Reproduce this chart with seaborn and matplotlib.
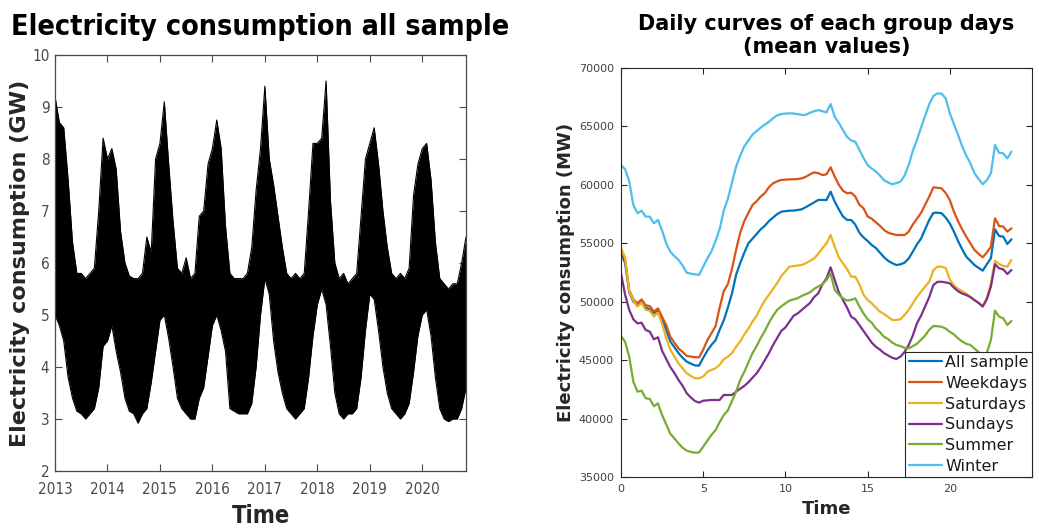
import numpy as np
import pandas as pd
import matplotlib
matplotlib.use("Agg")
import matplotlib.pyplot as plt
from matplotlib import font_manager as fm
import seaborn as sns

# ---------------- data: left panel (monthly envelope of hourly load, GW) -------------
years_start = 2013
upper_gw = [
    9.2, 8.7, 8.6, 7.6, 6.4, 5.8, 5.8, 5.7, 5.8, 5.9, 7.0, 8.4,   # 2013
    8.0, 8.2, 7.8, 6.6, 6.0, 5.75, 5.7, 5.7, 5.8, 6.5, 6.2, 8.0,  # 2014
    8.3, 9.1, 7.9, 6.8, 5.9, 5.8, 6.1, 5.7, 5.8, 6.9, 7.0, 7.9,   # 2015
    8.2, 8.75, 8.2, 6.7, 5.8, 5.7, 5.7, 5.7, 5.8, 6.3, 7.4, 8.2,  # 2016
    9.4, 8.0, 7.5, 6.9, 6.3, 5.8, 5.7, 5.8, 5.7, 5.8, 7.0, 8.3,   # 2017
    8.3, 8.4, 9.5, 7.2, 6.0, 5.7, 5.8, 5.6, 5.7, 5.8, 6.9, 8.0,   # 2018
    8.3, 8.6, 7.9, 7.0, 6.3, 5.8, 5.7, 5.8, 5.7, 5.9, 7.3, 7.9,   # 2019
    8.2, 8.3, 7.6, 6.4, 5.7, 5.6, 5.5, 5.6, 5.6, 6.0, 6.5,        # 2020
]
lower_gw = [
    5.0, 4.8, 4.5, 3.8, 3.4, 3.15, 3.1, 3.0, 3.1, 3.2, 3.6, 4.4,  # 2013
    4.5, 4.8, 4.3, 3.9, 3.4, 3.15, 3.1, 2.92, 3.1, 3.2, 3.7, 4.3, # 2014
    4.9, 5.0, 4.55, 4.0, 3.4, 3.2, 3.1, 3.0, 3.0, 3.4, 3.6, 4.2,  # 2015
    4.8, 5.0, 4.7, 4.3, 3.2, 3.15, 3.1, 3.1, 3.1, 3.3, 4.0, 5.0,  # 2016
    5.7, 5.4, 4.5, 3.9, 3.5, 3.2, 3.1, 3.0, 3.1, 3.2, 3.8, 4.6,   # 2017
    5.2, 5.5, 5.2, 4.4, 3.5, 3.1, 3.0, 3.1, 3.1, 3.2, 3.8, 4.7,   # 2018
    5.4, 5.3, 4.7, 4.0, 3.5, 3.2, 3.1, 3.0, 3.1, 3.3, 3.9, 4.6,   # 2019
    5.0, 5.1, 4.6, 3.8, 3.2, 3.0, 2.95, 3.0, 3.0, 3.2, 3.6,       # 2020
]
year_ticks = [2013, 2014, 2015, 2016, 2017, 2018, 2019, 2020]

# ---------------- data: right panel (15-min mean daily curves, MW) ---------------------
series_names = ["All sample", "Weekdays", "Saturdays", "Sundays", "Summer", "Winter"]
all_sample = [
    54200, 53300, 50800, 50000, 49720, 50090, 49500, 49350,
    49010, 49290, 48500, 47600, 46600, 46100, 45600, 45200,
    44870, 44700, 44550, 44530, 45200, 45800, 46300, 46700,
    47600, 48400, 49500, 50700, 52300, 53300, 54200, 55000,
    55400, 55800, 56200, 56500, 56900, 57200, 57500, 57700,
    57750, 57790, 57800, 57850, 57910, 58100, 58300, 58500,
    58710, 58710, 58700, 59420, 58560, 57900, 57300, 57000,
    57000, 56600, 55900, 55500, 55200, 54850, 54600, 54200,
    53800, 53500, 53300, 53140, 53200, 53340, 53700, 54280,
    54900, 55400, 56200, 57000, 57600, 57620, 57570, 57200,
    56700, 56000, 55200, 54500, 53860, 53500, 53140, 52900,
    52660, 53200, 53720, 56200, 55620, 55570, 54940, 55340,
]
weekdays = [
    54400, 53600, 51000, 50200, 49860, 50200, 49700, 49630,
    49150, 49430, 48700, 48000, 47000, 46500, 46000, 45700,
    45360, 45300, 45250, 45240, 45900, 46700, 47300, 47900,
    49500, 50900, 51500, 52800, 54430, 55900, 56900, 57600,
    58280, 58600, 59000, 59300, 59800, 60130, 60300, 60420,
    60450, 60470, 60480, 60500, 60560, 60700, 60900, 61070,
    61000, 60840, 60900, 61500, 60700, 60000, 59500, 59280,
    59330, 59000, 58300, 58000, 57300, 57100, 56800, 56500,
    56140, 55900, 55800, 55710, 55710, 55700, 56000, 56600,
    57100, 57600, 58300, 59000, 59790, 59750, 59700, 59300,
    58700, 57700, 56900, 56200, 55570, 55000, 54430, 54100,
    53800, 54200, 54710, 57140, 56480, 56420, 56000, 56280,
]
saturdays = [
    54570, 53800, 50900, 50100, 49580, 49920, 49300, 49230,
    48720, 49060, 48100, 46900, 45900, 45300, 44730, 44300,
    43870, 43650, 43450, 43450, 43600, 44000, 44160, 44300,
    44600, 45070, 45300, 45600, 46150, 46600, 47200, 47700,
    48300, 48800, 49500, 50100, 50600, 51100, 51600, 52200,
    52600, 53000, 53050, 53100, 53140, 53300, 53500, 53700,
    54100, 54570, 55000, 55710, 54710, 53800, 53290, 52800,
    52140, 52140, 51500, 50600, 50150, 49860, 49500, 49150,
    48950, 48700, 48440, 48440, 48500, 48870, 49300, 49860,
    50400, 50860, 51300, 51710, 52700, 53000, 53000, 52900,
    51900, 51400, 51100, 50900, 50700, 50400, 50100, 49900,
    49630, 50300, 51580, 53500, 53230, 53060, 53000, 53570,
]
sundays = [
    52430, 50600, 49300, 48500, 48150, 48200, 47580, 47440,
    46780, 46960, 45800, 45100, 44400, 43900, 43300, 42800,
    42160, 41800, 41500, 41360, 41530, 41560, 41590, 41590,
    41590, 42020, 42020, 42020, 42300, 42550, 42800, 43100,
    43500, 43870, 44400, 45000, 45600, 46300, 46900, 47500,
    47800, 48300, 48800, 49000, 49300, 49600, 49900, 50400,
    50720, 51500, 52000, 52940, 51860, 50800, 50150, 49500,
    48720, 48500, 48000, 47500, 47000, 46500, 46150, 45900,
    45600, 45400, 45200, 45100, 45300, 45700, 46300, 47100,
    48150, 48800, 49600, 50400, 51430, 51700, 51710, 51650,
    51570, 51200, 50900, 50700, 50570, 50400, 50150, 49900,
    49580, 50200, 51290, 53200, 52860, 52770, 52370, 52710,
]
summer = [
    47070, 46580, 45300, 43160, 42300, 42390, 41740, 41680,
    41060, 41300, 40300, 39500, 38700, 38300, 37870, 37500,
    37250, 37150, 37080, 37100, 37600, 38100, 38600, 39000,
    39700, 40300, 40700, 41500, 42300, 43300, 44000, 44800,
    45600, 46200, 46900, 47500, 48200, 48800, 49300, 49600,
    49860, 50100, 50200, 50300, 50500, 50650, 50800, 51100,
    51300, 51500, 51860, 52430, 51000, 50600, 50290, 50100,
    50150, 50290, 49600, 49000, 48500, 48200, 47720, 47400,
    47000, 46800, 46500, 46300, 46200, 46050, 46010, 46200,
    46400, 46750, 47100, 47600, 47920, 47900, 47860, 47700,
    47430, 47200, 46870, 46600, 46400, 46300, 46000, 45700,
    45300, 45600, 46720, 49230, 48720, 48580, 48010, 48350,
]
winter = [
    61700, 61330, 60300, 58280, 57570, 57790, 57280, 57280,
    56710, 57000, 56100, 55000, 54280, 53900, 53570, 53100,
    52480, 52400, 52350, 52300, 53000, 53700, 54300, 55200,
    56200, 57800, 58800, 60200, 61560, 62500, 63300, 63800,
    64300, 64600, 64900, 65150, 65400, 65700, 65950, 66050,
    66100, 66120, 66100, 66050, 65980, 66000, 66180, 66300,
    66400, 66300, 66200, 66920, 65830, 65300, 64690, 64100,
    63800, 63690, 63000, 62300, 61700, 61400, 61150, 60800,
    60400, 60200, 60050, 60150, 60270, 60800, 61700, 62900,
    63840, 64900, 65900, 66900, 67600, 67830, 67800, 67400,
    66120, 65200, 64300, 63300, 62500, 61850, 61000, 60500,
    60050, 60400, 60990, 63410, 62750, 62700, 62270, 62840,
]
hour_ticks = [0, 5, 10, 15, 20]
mw_ticks = [35000, 40000, 45000, 50000, 55000, 60000, 65000, 70000]
gw_ticks = [2, 3, 4, 5, 6, 7, 8, 9, 10]

matlab_colors = ["#0072BD", "#D95319", "#EDB120", "#7E2F8E", "#77AC30", "#4DBEEE"]

# ---------------- style ----------------
sns.set_theme(style="ticks")
plt.rcParams["font.family"] = ["DejaVu Sans"]

# try to find a condensed face for the (horizontally squeezed) left panel
cond_bold = None
cond_reg = None
for f in fm.fontManager.ttflist:
    fn = f.fname.lower()
    if ("condensed" in fn or "narrow" in fn) and "dejavusans" in fn.replace("-", ""):
        if "bold" in fn and "oblique" not in fn and cond_bold is None:
            cond_bold = f.fname
        if "bold" not in fn and "oblique" not in fn and cond_reg is None:
            cond_reg = f.fname
if cond_bold is None:
    for f in fm.fontManager.ttflist:
        fn = f.fname.lower()
        if "narrow" in fn and "bold" in fn and "italic" not in fn:
            cond_bold = f.fname
            break

def fp(fname, size, weight="normal"):
    if fname:
        return fm.FontProperties(fname=fname, size=size)
    return fm.FontProperties(family="DejaVu Sans", size=size * 0.85, weight=weight)

W, H = 1039, 529
fig = plt.figure(figsize=(W / 100, H / 100), dpi=100)
fig.patch.set_facecolor("white")

# ---------------- left panel ----------------
axL = fig.add_axes([55 / W, (H - 471) / H, 411 / W, 416 / H])
t = years_start + np.arange(len(upper_gw)) / 12.0
dfL = pd.DataFrame({"t": t, "upper": upper_gw, "lower": lower_gw})
axL.fill_between(dfL["t"], dfL["lower"], dfL["upper"], color="black", linewidth=0)
sns.lineplot(data=dfL, x="t", y="upper", ax=axL, color="black", linewidth=0.8)
sns.lineplot(data=dfL, x="t", y="lower", ax=axL, color="black", linewidth=0.8)
axL.set_xlim(2013, t[-1])
axL.set_ylim(2, 10)
axL.set_xticks(year_ticks)
axL.set_yticks(gw_ticks)
tick_fp = fp(cond_reg, 11)
axL.set_xticklabels([str(y) for y in year_ticks], fontproperties=tick_fp, color="#4a4a4a")
axL.set_yticklabels([str(v) for v in gw_ticks], fontproperties=tick_fp, color="#4a4a4a")
axL.tick_params(axis="y", direction="in", length=5, width=0.8, right=True, color="#4a4a4a", pad=4)
axL.tick_params(axis="x", direction="in", length=5, width=0.8, top=True, color="#4a4a4a", pad=8)
for s in axL.spines.values():
    s.set_color("#4a4a4a")
    s.set_linewidth(0.9)
axL.set_xlabel("Time", fontproperties=fp(cond_bold, 17, "bold"), color="#262626")
axL.xaxis.set_label_coords(0.5, -0.108)
axL.xaxis.label.set_va("center")
axL.set_ylabel("Electricity consumption (GW)", fontsize=16, fontweight="bold", color="#262626")
axL.yaxis.set_label_coords(-35 / 411, 0.5)
axL.yaxis.label.set_va("center")
axL.text(0.5, 1.067, "Electricity consumption all sample", transform=axL.transAxes,
         ha="center", va="center", fontproperties=fp(cond_bold, 20.5, "bold"), color="black")

# ---------------- right panel ----------------
axR = fig.add_axes([621 / W, (H - 477) / H, 411 / W, 409 / H])
hours = np.arange(len(winter)) / 4.0
dfR = pd.concat([
    pd.DataFrame({"hour": hours, "MW": vals, "group": name})
    for name, vals in zip(series_names, [all_sample, weekdays, saturdays, sundays, summer, winter])
])
sns.lineplot(data=dfR, x="hour", y="MW", hue="group", hue_order=series_names,
             palette=matlab_colors, linewidth=1.6, ax=axR, sort=False)
axR.set_xlim(0, 25)
axR.set_ylim(35000, 70000)
axR.set_xticks(hour_ticks)
axR.set_yticks(mw_ticks)
axR.set_xticklabels([str(h) for h in hour_ticks], fontsize=8, color="#404040")
axR.set_yticklabels([str(v) for v in mw_ticks], fontsize=8, color="#404040")
axR.tick_params(direction="in", length=4, width=0.8, top=True, right=True, color="#262626", pad=5)
for s in axR.spines.values():
    s.set_color("#262626")
    s.set_linewidth(0.8)
axR.set_xlabel("Time", fontsize=13, fontweight="bold", color="#262626")
axR.xaxis.set_label_coords(0.5, -32 / 409)
axR.xaxis.label.set_va("center")
axR.set_ylabel("Electricity consumption (MW)", fontsize=13, fontweight="bold", color="#262626")
axR.yaxis.set_label_coords(-55 / 411, 0.5)
axR.yaxis.label.set_va("center")
axR.set_title("Daily curves of each group days\n(mean values)", fontsize=15,
              fontweight="bold", color="black", pad=11, linespacing=1.15)
handles, labels = axR.get_legend_handles_labels()
leg = axR.legend(handles, labels, loc="lower right", borderaxespad=0, fontsize=11.5,
                 frameon=True, fancybox=False, framealpha=1, edgecolor="#262626",
                 handlelength=2.1, handletextpad=0.2, labelspacing=0.36, borderpad=0.2)
leg.get_frame().set_linewidth(0.8)
for txt in leg.get_texts():
    txt.set_color("#1a1a1a")

fig.savefig("out.png", dpi=100, facecolor="white")
